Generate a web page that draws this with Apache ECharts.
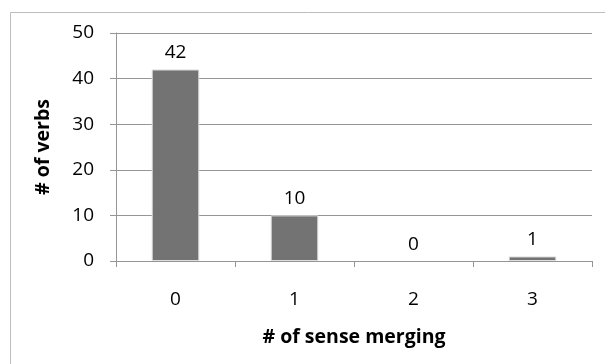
<!DOCTYPE html>
<html>
<head>
<meta charset="utf-8">
<script src="https://cdn.jsdelivr.net/npm/echarts@6/dist/echarts.min.js"></script>
<style>
  html, body { margin: 0; padding: 0; background: #fff; }
  #chart { width: 605px; height: 364px; }
</style>
</head>
<body>
<div id="chart"></div>
<script>
// Number of sense merges per verb
const categories = ['0', '1', '2', '3'];
const verbCounts = [42, 10, 0, 1];
const yTicks = { min: 0, max: 50, interval: 10 };

const FONT = '"Open Sans", "Liberation Sans", sans-serif';
const chart = echarts.init(document.getElementById('chart'), null, { renderer: 'canvas' });

// zero-height bars get no outline so nothing is drawn on the axis
const barData = verbCounts.map(v => ({
  value: v,
  itemStyle: { borderWidth: v === 0 ? 0 : 1 }
}));

chart.setOption({
  animation: false,
  backgroundColor: '#ffffff',
  graphic: [{
    type: 'rect',
    left: 8, top: 10,
    shape: { width: 620, height: 380 },
    style: { fill: 'none', stroke: '#bdbdbd', lineWidth: 1 },
    silent: true
  }],
  grid: { left: 116, right: 13, top: 33, bottom: 103 },
  xAxis: {
    type: 'category',
    data: categories,
    name: '# of sense merging',
    nameLocation: 'middle',
    nameGap: 66,
    nameTextStyle: { fontFamily: FONT, fontSize: 19.5, fontWeight: 'bold', color: '#000' },
    axisLine: { lineStyle: { color: '#959595', width: 1 } },
    axisTick: { show: true, length: 6, lineStyle: { color: '#959595' } },
    axisLabel: { margin: 29, fontFamily: FONT, fontSize: 19, color: '#000' }
  },
  yAxis: {
    type: 'value',
    min: yTicks.min, max: yTicks.max, interval: yTicks.interval,
    name: '# of verbs',
    nameLocation: 'middle',
    nameGap: 63,
    nameTextStyle: { fontFamily: FONT, fontSize: 19.5, fontWeight: 'bold', color: '#000' },
    axisLine: { show: true, lineStyle: { color: '#959595', width: 1 } },
    axisTick: { show: true, length: 6, lineStyle: { color: '#959595' } },
    axisLabel: { margin: 22, fontFamily: FONT, fontSize: 19, color: '#000' },
    splitLine: { show: true, lineStyle: { color: '#959595', width: 1 } }
  },
  series: [{
    type: 'bar',
    data: barData,
    barWidth: '40%',
    itemStyle: { color: '#737373', borderColor: '#dedede', borderWidth: 1 },
    label: {
      show: true, position: 'top', distance: 7,
      fontFamily: FONT, fontSize: 19, color: '#000'
    }
  }]
});
</script>
</body>
</html>
